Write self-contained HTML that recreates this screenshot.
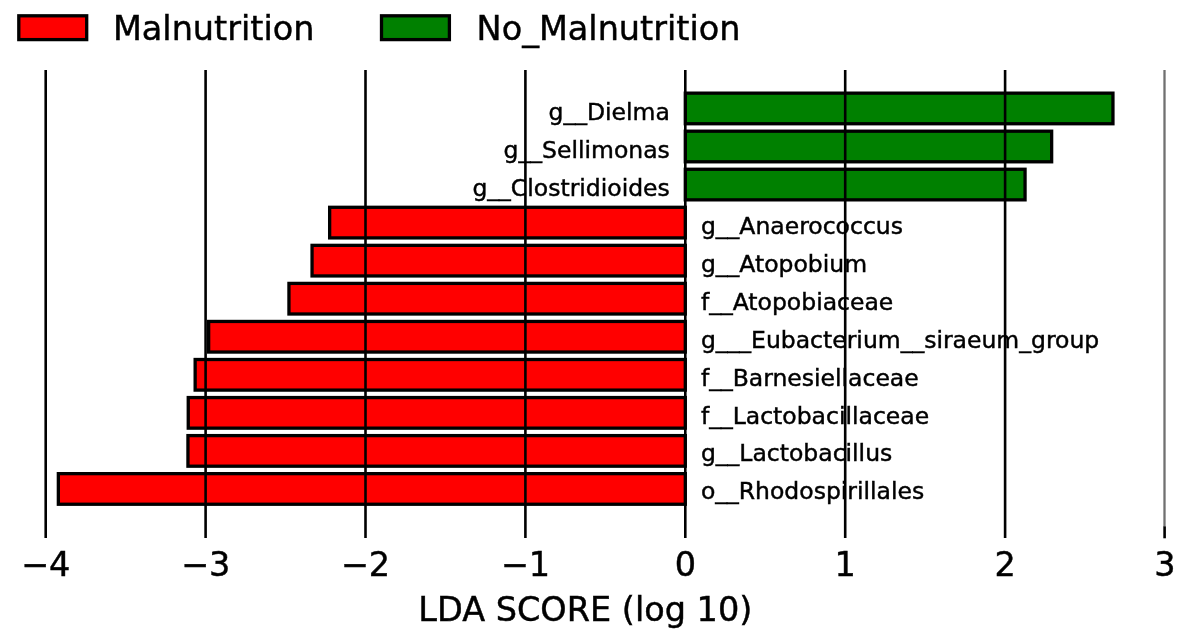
<!DOCTYPE html>
<html lang="en">
<head>
<meta charset="utf-8">
<title>LDA SCORE (log 10)</title>
<style>
html,body{margin:0;padding:0;background:#fff;}
body{width:1181px;height:641px;overflow:hidden;}
svg{display:block;}
text{font-family:"DejaVu Sans","Liberation Sans",sans-serif;fill:#000;stroke:#000;stroke-width:0.45;}
.big{font-size:33.5px;}
.sm{font-size:23.5px;}
.bar{stroke:#000;stroke-width:3.3;}
.r{fill:#ff0000;}
.g{fill:#008000;}
.grid{stroke:#000;stroke-width:2.6;}
</style>
</head>
<body>
<svg width="1181" height="641" viewBox="0 0 1181 641">
<rect x="0" y="0" width="1181" height="641" fill="#ffffff"/>

<g id="bars">
<rect class="bar g" x="685.30" y="93.15" width="427.65" height="30.60"/>
<rect class="bar g" x="685.30" y="131.20" width="366.35" height="30.60"/>
<rect class="bar g" x="685.30" y="169.25" width="339.75" height="30.60"/>
<rect class="bar r" x="329.65" y="207.30" width="355.65" height="30.60"/>
<rect class="bar r" x="312.05" y="245.35" width="373.25" height="30.60"/>
<rect class="bar r" x="288.95" y="283.40" width="396.35" height="30.60"/>
<rect class="bar r" x="208.65" y="321.45" width="476.65" height="30.60"/>
<rect class="bar r" x="195.15" y="359.50" width="490.15" height="30.60"/>
<rect class="bar r" x="188.25" y="397.55" width="497.05" height="30.60"/>
<rect class="bar r" x="187.95" y="435.60" width="497.35" height="30.60"/>
<rect class="bar r" x="58.35" y="473.65" width="626.95" height="30.60"/>
</g>
<g id="labels" class="sm">
<text x="669.8" y="120.40" text-anchor="end">g__Dielma</text>
<text x="669.8" y="158.29" text-anchor="end">g__Sellimonas</text>
<text x="669.8" y="196.18" text-anchor="end">g__Clostridioides</text>
<text x="700.9" y="234.07">g__Anaerococcus</text>
<text x="700.9" y="271.96">g__Atopobium</text>
<text x="700.9" y="309.85">f__Atopobiaceae</text>
<text x="700.9" y="347.74">g___Eubacterium__siraeum_group</text>
<text x="700.9" y="385.63">f__Barnesiellaceae</text>
<text x="700.9" y="423.52">f__Lactobacillaceae</text>
<text x="700.9" y="461.41">g__Lactobacillus</text>
<text x="700.9" y="499.30">o__Rhodospirillales</text>
</g>
<g id="grid">
<line class="grid" x1="45.70" y1="70" x2="45.70" y2="538"/>
<line class="grid" x1="205.60" y1="70" x2="205.60" y2="538"/>
<line class="grid" x1="365.50" y1="70" x2="365.50" y2="538"/>
<line class="grid" x1="525.40" y1="70" x2="525.40" y2="538"/>
<line class="grid" x1="685.30" y1="70" x2="685.30" y2="538"/>
<line class="grid" x1="845.20" y1="70" x2="845.20" y2="538"/>
<line class="grid" x1="1005.10" y1="70" x2="1005.10" y2="538"/>
<line x1="1164.50" y1="70" x2="1164.50" y2="527" stroke="#707070" stroke-width="2.3"/>
<line class="grid" x1="1164.60" y1="526.5" x2="1164.60" y2="538.3"/>
</g>
<g id="ticks" class="big" text-anchor="middle">
<text x="45.70" y="575.5">−4</text>
<text x="205.60" y="575.5">−3</text>
<text x="365.50" y="575.5">−2</text>
<text x="525.40" y="575.5">−1</text>
<text x="685.30" y="575.5">0</text>
<text x="845.20" y="575.5">1</text>
<text x="1005.10" y="575.5">2</text>
<text x="1165.00" y="575.5">3</text>
</g>
<text class="big" x="585.3" y="621.3" text-anchor="middle">LDA SCORE (log 10)</text>
<g id="legend" class="big">
<rect class="bar r" x="18.8" y="15.8" width="67.9" height="23.8"/>
<text x="112.9" y="39.5">Malnutrition</text>
<rect class="bar g" x="381.5" y="15.8" width="67.9" height="23.8"/>
<text x="476.6" y="39.5">No_Malnutrition</text>
</g>
</svg>
</body>
</html>
